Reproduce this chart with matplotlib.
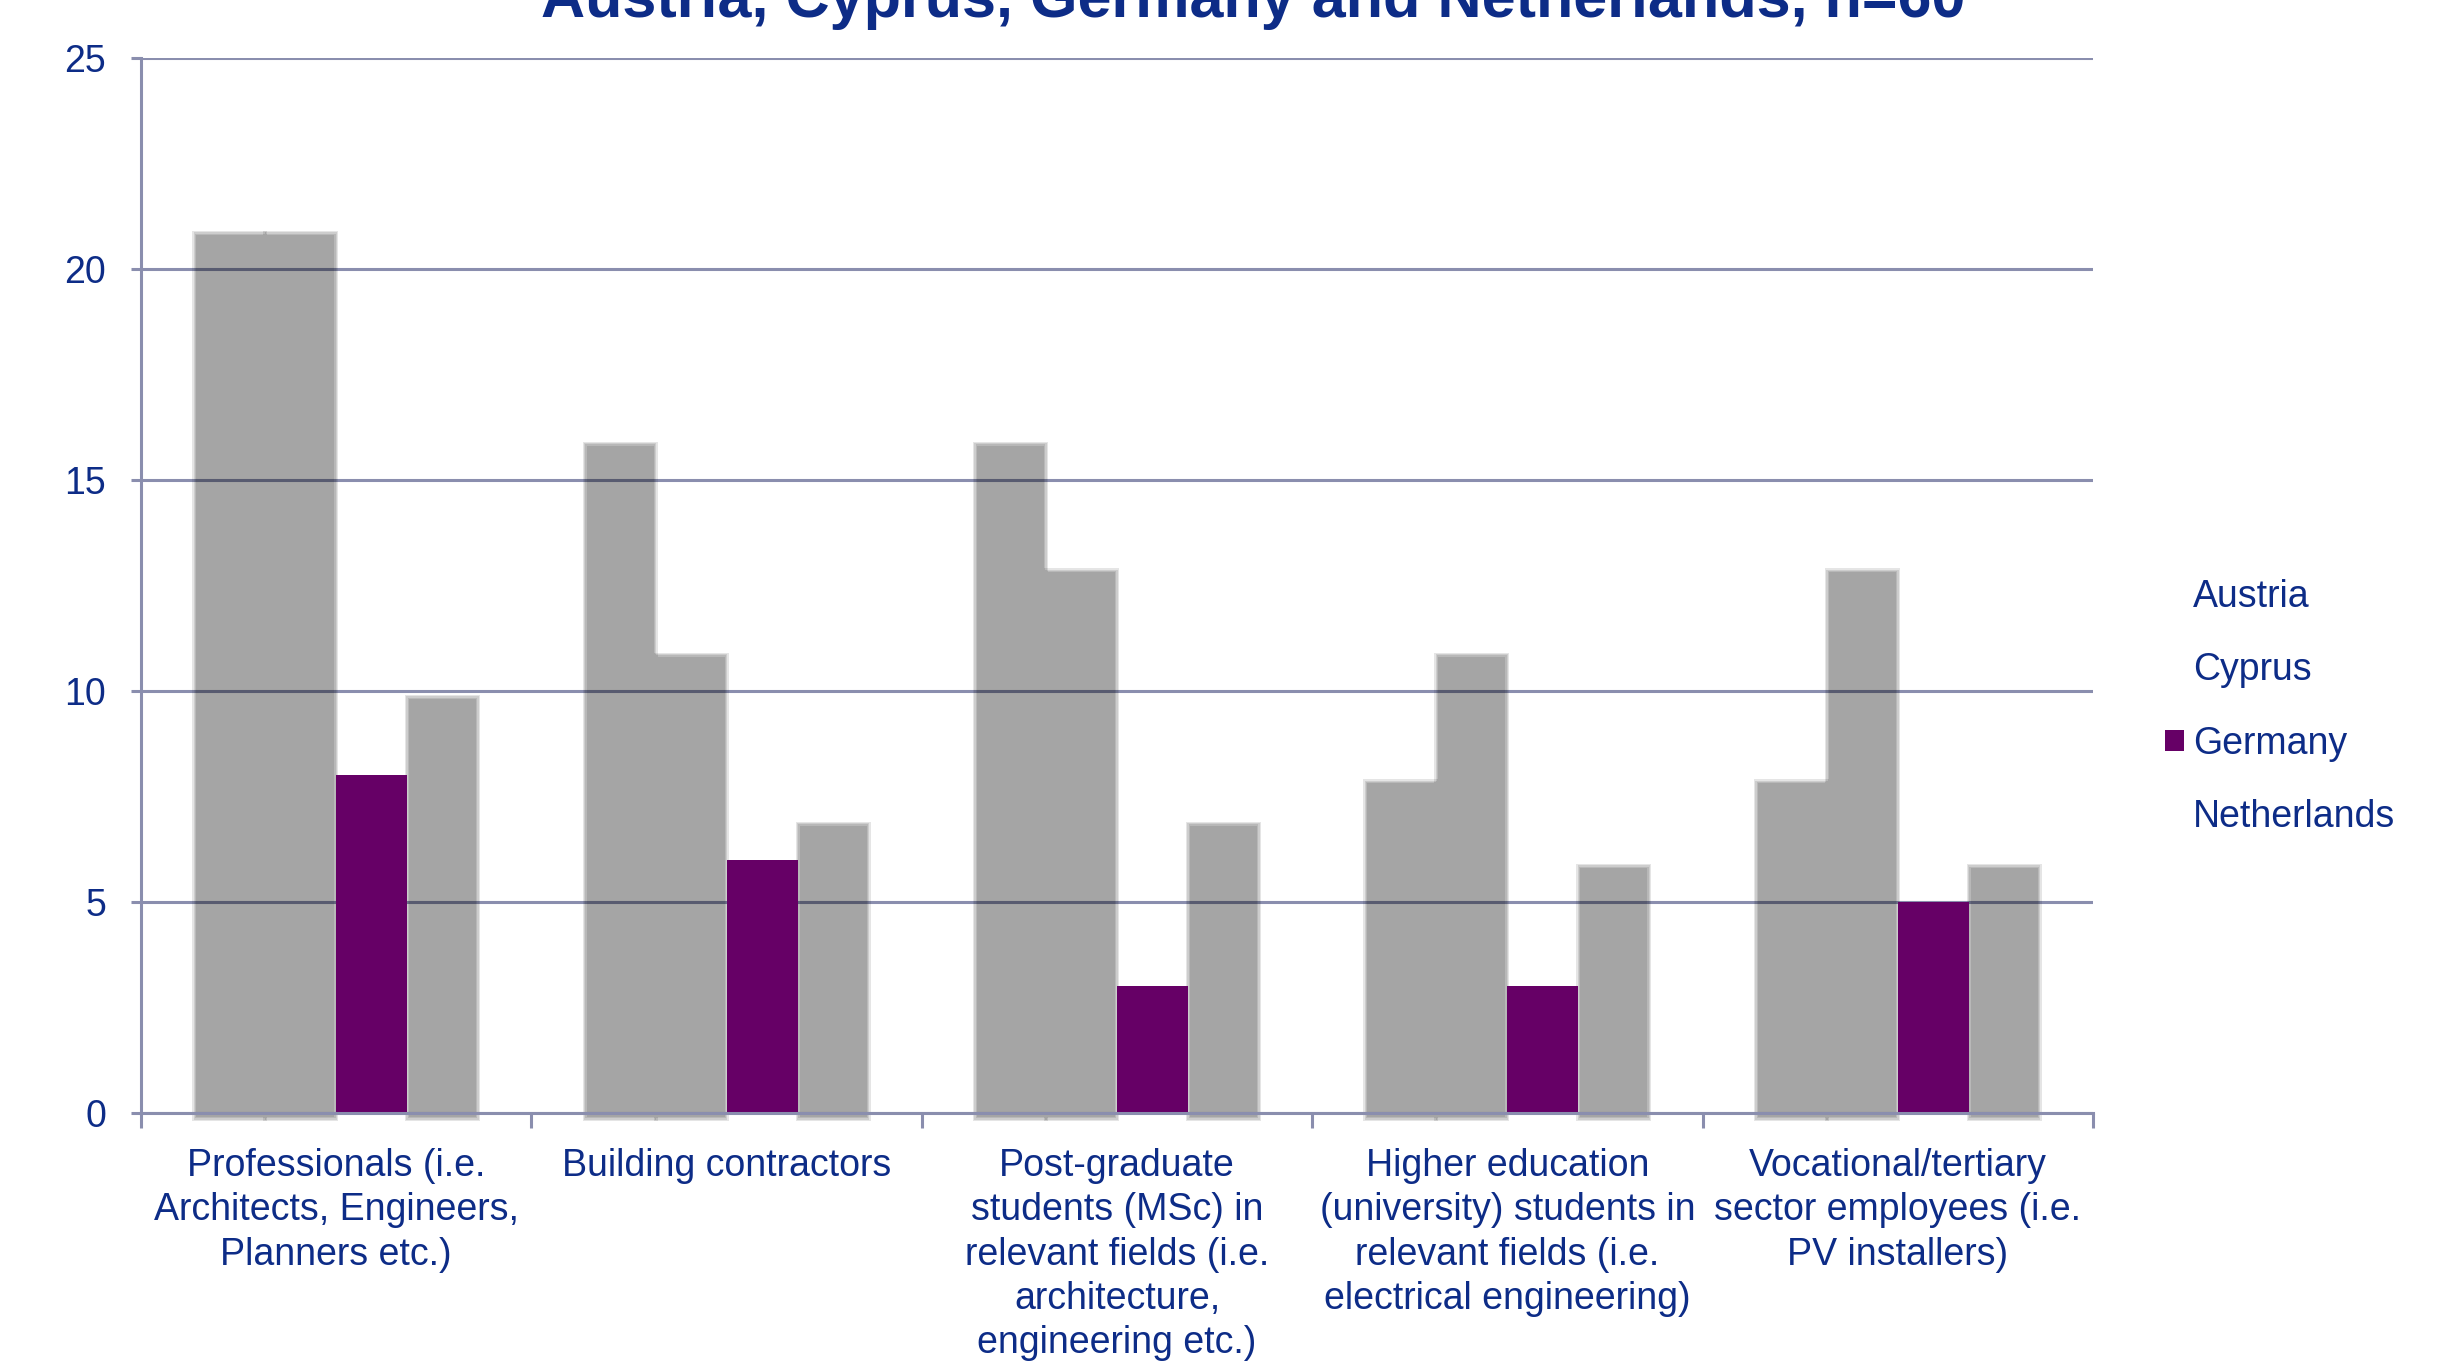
import matplotlib
matplotlib.use('Agg')
import matplotlib.pyplot as plt
from matplotlib.patches import Patch
import numpy as np

# ---- data ----
categories = [
    "Professionals (i.e.\nArchitects, Engineers,\nPlanners etc.)",
    "Building contractors",
    "Post-graduate\nstudents (MSc) in\nrelevant fields (i.e.\narchitecture,\nengineering etc.)",
    "Higher education\n(university) students in\nrelevant fields (i.e.\nelectrical engineering)",
    "Vocational/tertiary\nsector employees (i.e.\nPV installers)",
]
series_names = ["Austria", "Cyprus", "Germany", "Netherlands"]
austria = [21, 16, 16, 8, 8]
cyprus = [21, 11, 13, 11, 13]
germany = [8, 6, 3, 3, 5]
netherlands = [10, 7, 7, 6, 6]
y_ticks = [0, 5, 10, 15, 20, 25]
title_text = "Austria, Cyprus, Germany and Netherlands, n=60"

# ---- style ----
plt.rcParams['font.family'] = ['Liberation Sans', 'DejaVu Sans']
TXT = '#0d2c87'
GRID = '#8a8eae'
PURPLE = '#660066'

W, H = 2454, 1361
fig = plt.figure(figsize=(W / 100, H / 100), dpi=100)
ax_l, ax_r, ax_t, ax_b = 141, 2093, 58, 1113
ax = fig.add_axes([ax_l / W, (H - ax_b) / H, (ax_r - ax_l) / W, (ax_b - ax_t) / H])

n_cat = len(categories)
ax.set_xlim(0, n_cat)
ax.set_ylim(0, 25)
pxx = (ax_r - ax_l) / n_cat      # pixels per x unit
pxy = (ax_b - ax_t) / 25.0       # pixels per y unit

x = np.arange(n_cat) + 0.5
bw = 1 / 5.5
offsets = (np.arange(4) - 1.5) * bw
values = [austria, cyprus, germany, netherlands]

# shadow-like gray bars (soft edges, offset slightly downward)
shadow_dy = 6.0  # px
layers = [2.0, 0.7, -0.7, -2.0]
la = 1 - (1 - 0.35) ** (1 / len(layers))
for si, vals in enumerate(values):
    xs = x + offsets[si]
    vals = np.asarray(vals, dtype=float)
    if series_names[si] == "Germany":
        ax.bar(xs, vals, width=bw, color=PURPLE, zorder=2.2, linewidth=0)
        continue
    for e in layers:
        ex = e / pxx
        ey = e / pxy
        bottom = -(shadow_dy + e) / pxy
        top = vals - shadow_dy / pxy + ey
        ax.bar(xs, top - bottom, width=bw + 2 * ex, bottom=bottom,
               color=(0, 0, 0, la), linewidth=0, zorder=1.5, clip_on=False)

# grid & spines
ax.set_axisbelow(True)
ax.yaxis.grid(True, color=GRID, linewidth=2.2, zorder=0.5)
ax.set_yticks(y_ticks)
ax.set_yticklabels([str(v) for v in y_ticks])
for s in ['top', 'right']:
    ax.spines[s].set_visible(False)
for s in ['left', 'bottom']:
    ax.spines[s].set_color(GRID)
    ax.spines[s].set_linewidth(2.2)
    ax.spines[s].set_zorder(2.5)

ax.tick_params(axis='y', which='major', length=7, width=2.2, color=GRID,
               labelsize=27, labelcolor=TXT, pad=18)
ax.set_xticks(np.arange(n_cat + 1))
ax.set_xticklabels([''] * (n_cat + 1))
ax.set_xticks(x, minor=True)
ax.set_xticklabels(categories, minor=True)
ax.tick_params(axis='x', which='major', length=11, width=2.2, color=GRID, direction='out')
ax.tick_params(axis='x', which='minor', length=0, labelsize=27, labelcolor=TXT, pad=25)
for lab in ax.get_xticklabels(minor=True):
    lab.set_linespacing(1.3)
    lab.set_ha('center')

# legend
handles = [Patch(facecolor='white', edgecolor='none'),
           Patch(facecolor='white', edgecolor='none'),
           Patch(facecolor=PURPLE, edgecolor='none'),
           Patch(facecolor='white', edgecolor='none')]
fig.legend(handles, series_names, loc='center left',
           bbox_to_anchor=(2165 / W, 1 - 707 / H), frameon=False,
           fontsize=27, labelcolor=TXT, handlelength=0.5, handleheight=0.5,
           handletextpad=0.25, labelspacing=1.0, borderpad=0, borderaxespad=0)

# title (partly cut off at top edge, as in the original)
fig.text(1253 / W, 1 - 17 / H, title_text, ha='center', va='baseline',
         fontsize=44, fontweight='bold', color=TXT)

fig.savefig('out.png', dpi=100, facecolor='white')
